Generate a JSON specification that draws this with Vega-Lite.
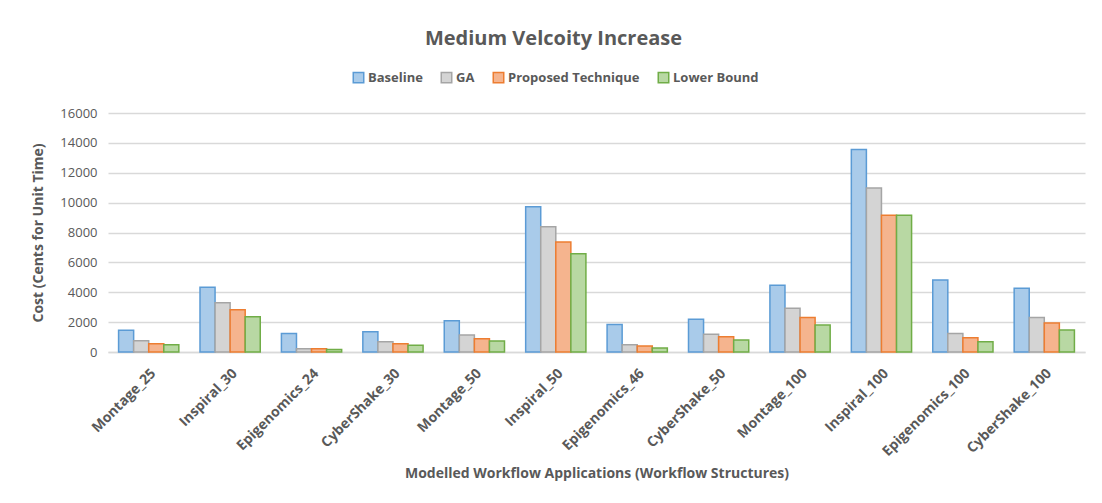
{
  "$schema": "https://vega.github.io/schema/vega-lite/v6.json",
  "autosize": "none",
  "width": 977,
  "height": 239,
  "padding": {"left": 108, "top": 113, "right": 17, "bottom": 151},
  "background": "white",
  "config": {
    "font": "Open Sans",
    "view": {"stroke": null},
    "axis": {"labelColor": "#595959", "titleColor": "#595959", "labelFont": "Open Sans", "titleFont": "Open Sans"}
  },
  "title": {
    "text": "Medium Velcoity Increase",
    "fontSize": 20,
    "fontWeight": "bold",
    "color": "#595959",
    "font": "Open Sans",
    "dx": -43,
    "offset": 22
  },
  "data": {
    "values": [
      {"app": "Montage_25", "series": "Baseline", "cost": 1460},
      {"app": "Montage_25", "series": "GA", "cost": 760},
      {"app": "Montage_25", "series": "Proposed Technique", "cost": 560},
      {"app": "Montage_25", "series": "Lower Bound", "cost": 490},
      {"app": "Inspiral_30", "series": "Baseline", "cost": 4330},
      {"app": "Inspiral_30", "series": "GA", "cost": 3290},
      {"app": "Inspiral_30", "series": "Proposed Technique", "cost": 2830},
      {"app": "Inspiral_30", "series": "Lower Bound", "cost": 2360},
      {"app": "Epigenomics_24", "series": "Baseline", "cost": 1245},
      {"app": "Epigenomics_24", "series": "GA", "cost": 225},
      {"app": "Epigenomics_24", "series": "Proposed Technique", "cost": 225},
      {"app": "Epigenomics_24", "series": "Lower Bound", "cost": 160},
      {"app": "CyberShake_30", "series": "Baseline", "cost": 1355},
      {"app": "CyberShake_30", "series": "GA", "cost": 690},
      {"app": "CyberShake_30", "series": "Proposed Technique", "cost": 560},
      {"app": "CyberShake_30", "series": "Lower Bound", "cost": 445},
      {"app": "Montage_50", "series": "Baseline", "cost": 2090},
      {"app": "Montage_50", "series": "GA", "cost": 1135},
      {"app": "Montage_50", "series": "Proposed Technique", "cost": 890},
      {"app": "Montage_50", "series": "Lower Bound", "cost": 740},
      {"app": "Inspiral_50", "series": "Baseline", "cost": 9730},
      {"app": "Inspiral_50", "series": "GA", "cost": 8380},
      {"app": "Inspiral_50", "series": "Proposed Technique", "cost": 7360},
      {"app": "Inspiral_50", "series": "Lower Bound", "cost": 6580},
      {"app": "Epigenomics_46", "series": "Baseline", "cost": 1845},
      {"app": "Epigenomics_46", "series": "GA", "cost": 490},
      {"app": "Epigenomics_46", "series": "Proposed Technique", "cost": 400},
      {"app": "Epigenomics_46", "series": "Lower Bound", "cost": 270},
      {"app": "CyberShake_50", "series": "Baseline", "cost": 2200},
      {"app": "CyberShake_50", "series": "GA", "cost": 1180},
      {"app": "CyberShake_50", "series": "Proposed Technique", "cost": 1025},
      {"app": "CyberShake_50", "series": "Lower Bound", "cost": 800},
      {"app": "Montage_100", "series": "Baseline", "cost": 4470},
      {"app": "Montage_100", "series": "GA", "cost": 2935},
      {"app": "Montage_100", "series": "Proposed Technique", "cost": 2313},
      {"app": "Montage_100", "series": "Lower Bound", "cost": 1800},
      {"app": "Inspiral_100", "series": "Baseline", "cost": 13560},
      {"app": "Inspiral_100", "series": "GA", "cost": 10980},
      {"app": "Inspiral_100", "series": "Proposed Technique", "cost": 9160},
      {"app": "Inspiral_100", "series": "Lower Bound", "cost": 9160},
      {"app": "Epigenomics_100", "series": "Baseline", "cost": 4826},
      {"app": "Epigenomics_100", "series": "GA", "cost": 1245},
      {"app": "Epigenomics_100", "series": "Proposed Technique", "cost": 960},
      {"app": "Epigenomics_100", "series": "Lower Bound", "cost": 690},
      {"app": "CyberShake_100", "series": "Baseline", "cost": 4270},
      {"app": "CyberShake_100", "series": "GA", "cost": 2313},
      {"app": "CyberShake_100", "series": "Proposed Technique", "cost": 1935},
      {"app": "CyberShake_100", "series": "Lower Bound", "cost": 1465}
    ]
  },
  "mark": {"type": "bar", "strokeWidth": 1.5, "fillOpacity": 1},
  "encoding": {
    "x": {
      "field": "app",
      "type": "nominal",
      "sort": null,
      "scale": {"paddingInner": 0.26, "paddingOuter": 0.13},
      "axis": {
        "title": "Modelled Workflow Applications (Workflow Structures)",
        "titleFontSize": 14,
        "titleFontWeight": "bold",
        "titlePadding": 8,
        "labelAngle": -45,
        "labelFontSize": 14,
        "labelFontWeight": "bold",
        "labelPadding": 14,
        "ticks": false,
        "domainColor": "#D9D9D9",
        "domainWidth": 1.5
      }
    },
    "xOffset": {
      "field": "series",
      "type": "nominal",
      "sort": ["Baseline", "GA", "Proposed Technique", "Lower Bound"],
      "scale": {"paddingInner": 0, "paddingOuter": 0}
    },
    "y": {
      "field": "cost",
      "type": "quantitative",
      "scale": {"domain": [0, 16000]},
      "axis": {
        "title": "Cost (Cents for Unit Time)",
        "titleFontSize": 14,
        "titleFontWeight": "bold",
        "titlePadding": 14,
        "values": [0, 2000, 4000, 6000, 8000, 10000, 12000, 14000, 16000],
        "format": "d",
        "labelFontSize": 13,
        "labelPadding": 11,
        "ticks": false,
        "domain": false,
        "gridColor": "#D9D9D9",
        "gridWidth": 1.5
      }
    },
    "fill": {
      "field": "series",
      "type": "nominal",
      "sort": ["Baseline", "GA", "Proposed Technique", "Lower Bound"],
      "scale": {
        "domain": ["Baseline", "GA", "Proposed Technique", "Lower Bound"],
        "range": ["#A9CBEA", "#D4D4D4", "#F5B48E", "#B8D8A3"]
      },
      "legend": {
        "title": null,
        "orient": "none",
        "direction": "horizontal",
        "legendX": 244,
        "legendY": -42,
        "symbolType": "square",
        "symbolSize": 110,
        "symbolStrokeWidth": 1.5,
        "labelFontSize": 13,
        "labelFontWeight": "bold",
        "labelColor": "#595959",
        "labelFont": "Open Sans",
        "columnPadding": 15,
        "symbolOffset": 0,
        "labelOffset": 3
      }
    },
    "stroke": {
      "field": "series",
      "type": "nominal",
      "sort": ["Baseline", "GA", "Proposed Technique", "Lower Bound"],
      "scale": {
        "domain": ["Baseline", "GA", "Proposed Technique", "Lower Bound"],
        "range": ["#5B9BD5", "#A5A5A5", "#ED7D31", "#70AD47"]
      },
      "legend": null
    }
  }
}
